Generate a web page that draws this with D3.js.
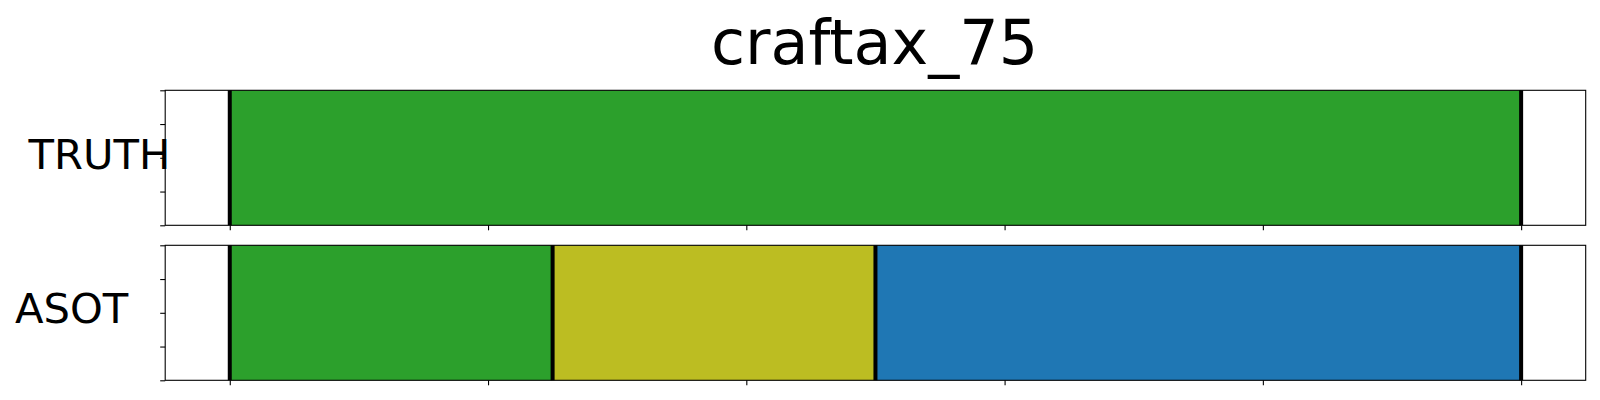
<!DOCTYPE html>
<html>
<head>
<meta charset="utf-8">
<script src="https://cdn.jsdelivr.net/npm/d3@7"></script>
<style>
  html, body { margin: 0; padding: 0; background: #fff; }
  svg { display: block; }
  text { font-family: "DejaVu Sans", sans-serif; fill: #000; }
</style>
</head>
<body>
<svg id="chart" width="1600" height="400"></svg>
<script>
// ---- data ----
const title = "craftax_75";
const rows = ["TRUTH", "ASOT"];
const truthStarts = [0];
const truthEnds = [100];
const truthClasses = [2];
const asotStarts = [0, 25, 50];
const asotEnds = [25, 50, 100];
const asotClasses = [2, 8, 0];
const xTicks = [0, 20, 40, 60, 80, 100];
const yTicks = [0, 0.25, 0.5, 0.75, 1];
const xDomain = [-5, 105];

const palette = d3.schemeCategory10;

const segmentsByRow = [
  truthStarts.map((s, i) => ({ start: s, end: truthEnds[i], cls: truthClasses[i] })),
  asotStarts.map((s, i) => ({ start: s, end: asotEnds[i], cls: asotClasses[i] }))
];

const svg = d3.select("#chart");
const left = 165.2, right = 1585.7;
const panelTops = [90.3, 245.3];
const panelH = 135;
const labelPos = [{ x: 28.5, y: 169.3 }, { x: 15, y: 323 }];

const x = d3.scaleLinear().domain(xDomain).range([left, right]);

svg.append("text")
  .attr("x", 874.5).attr("y", 64)
  .attr("text-anchor", "middle")
  .style("font-size", "62px")
  .text(title);

rows.forEach((name, r) => {
  const top = panelTops[r];
  const y = d3.scaleLinear().domain([0, 1]).range([top + panelH, top]);
  const g = svg.append("g");

  // colored segments
  g.selectAll("rect.seg").data(segmentsByRow[r]).enter().append("rect")
    .attr("class", "seg")
    .attr("x", d => x(d.start))
    .attr("width", d => x(d.end) - x(d.start))
    .attr("y", y(1))
    .attr("height", y(0) - y(1))
    .attr("fill", d => palette[d.cls]);

  // boundary lines
  const bounds = segmentsByRow[r].map(d => d.start).concat([segmentsByRow[r][segmentsByRow[r].length - 1].end]);
  g.selectAll("line.b").data(bounds).enter().append("line")
    .attr("x1", d => x(d)).attr("x2", d => x(d))
    .attr("y1", y(1)).attr("y2", y(0))
    .attr("stroke", "#000").attr("stroke-width", 4);

  // axes
  const xAxis = d3.axisBottom(x).tickValues(xTicks).tickSize(5).tickFormat("");
  const yAxis = d3.axisLeft(y).tickValues(yTicks).tickSize(5).tickFormat("");
  const gx = g.append("g").attr("transform", `translate(0,${y(0)})`).call(xAxis);
  const gy = g.append("g").attr("transform", `translate(${left},0)`).call(yAxis);
  [gx, gy].forEach(a => {
    a.select(".domain").remove();
    a.selectAll(".tick line").attr("stroke", "#000").attr("stroke-width", 1.1);
  });

  // frame
  g.append("rect")
    .attr("x", left).attr("y", y(1))
    .attr("width", right - left).attr("height", y(0) - y(1))
    .attr("fill", "none").attr("stroke", "#000").attr("stroke-width", 1.1);

  // row label
  svg.append("text")
    .attr("x", labelPos[r].x).attr("y", labelPos[r].y)
    .style("font-size", "41.7px")
    .text(name);
});
</script>
</body>
</html>
